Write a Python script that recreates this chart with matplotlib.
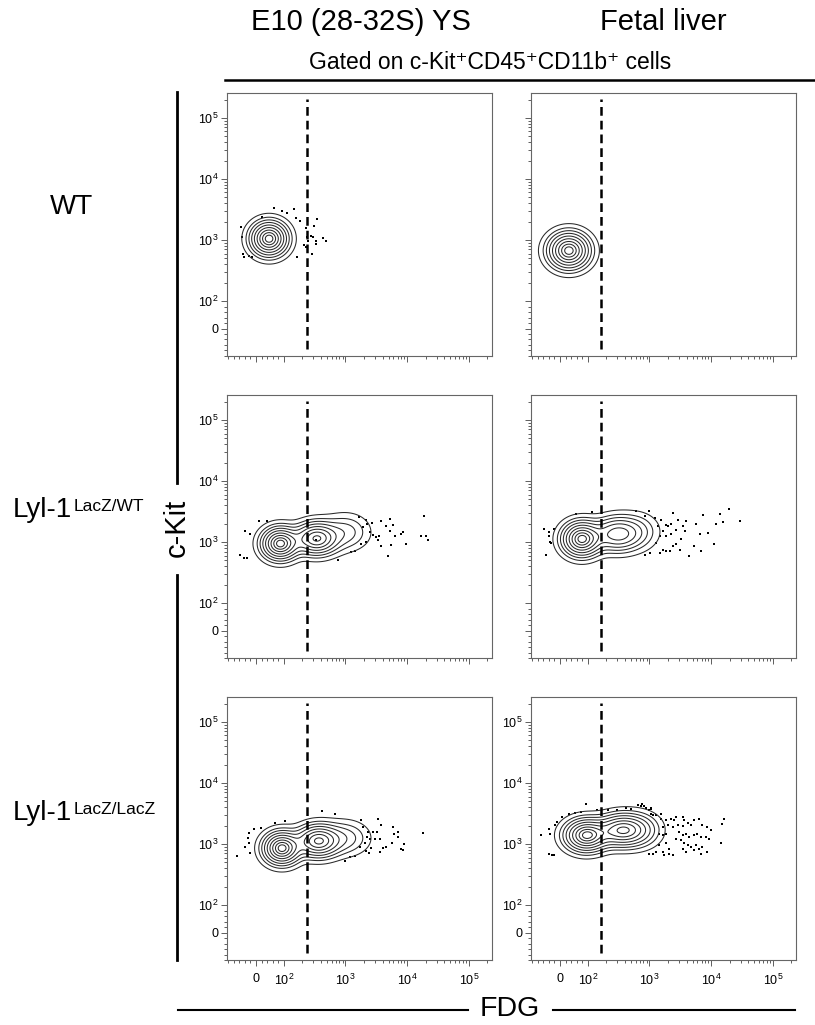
import numpy as np
import matplotlib
matplotlib.use('Agg')
import matplotlib.pyplot as plt
from matplotlib.lines import Line2D
from matplotlib.scale import SymmetricalLogTransform

plt.rcParams['font.family'] = ['Liberation Sans', 'DejaVu Sans']
plt.rcParams['mathtext.fontset'] = 'custom'
plt.rcParams['mathtext.rm'] = 'Liberation Sans'
plt.rcParams['mathtext.it'] = 'Liberation Sans:italic'

colTitles = ['E10 (28-32S) YS', 'Fetal liver']
rowNames = ['WT', 'Lyl-1', 'Lyl-1']
rowSups = ['', 'LacZ/WT', 'LacZ/LacZ']
gateTitle = 'Gated on c-Kit\u207aCD45\u207aCD11b\u207a cells'
xTitle = 'FDG'
yTitle = 'c-Kit'

tickVals = [0, 1e2, 1e3, 1e4, 1e5]
tickLabels = ['0', '$10^2$', '$10^3$', '$10^4$', '$10^5$']

# FDG value of the dashed gate, per column
fdgGate = [235, 166]

# density peaks of each population: FDG, c-Kit, spread FDG (decades), spread c-Kit, height
peaksYsWt = [(47, 1050, 0.17, 0.16, 1.0)]
peaksFlWt = [(32, 670, 0.19, 0.17, 1.0)]
peaksYsHet = [(87, 944, 0.17, 0.15, 1.0), (339, 1140, 0.20, 0.15, 0.85), (1000, 1450, 0.22, 0.17, 0.2)]
peaksFlHet = [(78, 1120, 0.18, 0.16, 1.0), (300, 1350, 0.22, 0.16, 0.6), (650, 1500, 0.20, 0.17, 0.15)]
peaksYsKo = [(93, 853, 0.17, 0.15, 1.0), (362, 1120, 0.20, 0.15, 0.85), (1000, 1250, 0.22, 0.16, 0.2)]
peaksFlKo = [(95, 1390, 0.20, 0.15, 1.0), (349, 1680, 0.22, 0.15, 0.8), (700, 1700, 0.20, 0.16, 0.25)]

# outlying events drawn as dots
dotsYsWtX = [-53, -49, -46, -42, -25, -14, 21, 63, 94, 113, 144, 159, 184, 163, 229, 234, 229, 246,
             272, 299, 310, 346, 338, 330, 285, 431, 488, 213]
dotsYsWtY = [1650, 1130, 588, 521, 547, 521, 2340, 3360, 2980, 2800, 3200, 2290, 2070, 535, 1590, 1110,
             769, 977, 1170, 1130, 1690, 2230, 977, 845, 588, 1080, 957, 824]

dotsFlWtX = []
dotsFlWtY = []

dotsYsHetX = [-57, -45, -33, -41, -21, 12, 39, 1660, 1920, 2180, 2270, 2460, 2720, 2780, 3080, 3350,
              3700, 3800, 3560, 4580, 5180, 5310, 5510, 5850, 6240, 4850, 8070, 8710, 9620, 17000,
              19000, 20200, 21500, 1250, 1410, 759, 1810, 2180, 331]
dotsYsHetY = [624, 548, 548, 1500, 1380, 2220, 2220, 2580, 1770, 2280, 2010, 1470, 2060, 1290, 1190, 1070,
              2220, 853, 1240, 1840, 2430, 1520, 887, 1880, 1240, 592, 1340, 1450, 944, 1240,
              2650, 1240, 1070, 689, 714, 503, 944, 1000, 1100]

dotsFlHetX = [-56, -50, -41, -38, -35, -32, -23, 57, 116, 600, 984, 839, 1250, 1560, 1370, 1660, 1830,
              1990, 2270, 2400, 2720, 2890, 3270, 3480, 3950, 3840, 4350, 5370, 5710, 6710, 6890, 7500,
              9030, 11000, 12200, 13700, 15300, 19700, 29600, 1290, 1460, 1660, 1880, 2120, 2400, 2650,
              3160, 1010, 839, 2270, 1460, 1880]
dotsFlHetY = [1660, 605, 1440, 1240, 1000, 966, 1640, 2890, 3110, 3180, 3270, 2710, 2480, 2270, 1860, 1500,
              1930, 1860, 2000, 3000, 1600, 2270, 1120, 1810, 2180, 1500, 583, 873, 2000, 1370, 705, 2810,
              1410, 931, 2000, 2920, 2140, 3490, 2240, 966, 662, 750, 705, 705, 851, 942,
              750, 662, 621, 1370, 1240, 1240]

dotsYsKoX = [-69, -38, -29, -27, -24, -23, -9, 19, 69, 103, 421, 673, 977, 1170, 1420, 1710, 1770, 2050,
             2230, 2320, 2380, 2530, 2620, 2980, 3200, 3360, 3580, 3800, 3580, 4050, 4580, 5710, 5870,
             6100, 7060, 7240, 7820, 8510, 9060, 17900, 2180, 2790, 1930]
dotsYsKoY = [638, 906, 1240, 1500, 1030, 706, 1750, 1820, 2240, 2420, 3490, 3080, 528, 608, 646, 906, 2480, 1050,
             1320, 1600, 722, 1200, 853, 1200, 1600, 2550, 1200, 2060, 750, 853, 906, 1030, 1930,
             1470, 1600, 1320, 822, 800, 993, 1540, 780, 1600, 1930]

dotsFlKoX = [760, 830, 1060, 998, 1130, 1540, 1540, 1850, 2230, 2530, 2690, 3440, 3660, 4150, 4700, 5310,
             6400, 7240, 8710, 9860, 16200, 15200, 14300, 1640, 1970, 2380, 2860, 3440, 3040, 3440, 3900,
             4420, 5310, 6010, 6810, 8200, 9270, 1450, 1640, 1850, 2690, 3240, 3660, 4150, 4700, 5650,
             6400, 7240, 8710, 3440, 3900, 5310, 6810, 1450, 1850, 2100, 1640, 1280, 1130, 998, 2100,
             2380, 1740,
             -70, -39, -36, -39, -30, -22, -18, -12, 6, 33, 53, 77, 95, 141, 212, 297, 420, 493, 647, 733,
             883, 1060, 1060, 1280]
dotsFlKoY = [4600, 4210, 3910, 3570, 2960, 3150, 2610, 2450, 2610, 2450, 2780, 2780, 2450, 2240, 2030, 2450,
             2610, 2030, 1900, 1680, 2610, 2160, 1020, 1900, 2030, 1900, 2030, 1980, 1580, 1390, 1480,
             1310, 1390, 1480, 1310, 1310, 1230, 1480, 1390, 1480, 1230, 1150, 1020, 955, 896, 955,
             841, 896, 741, 841, 741, 790, 697, 955, 1020, 841, 741, 741, 697, 697, 697,
             655, 655,
             1390, 1790, 1480, 697, 662, 670, 2030, 2300, 2780, 3150, 3240, 3360, 4490, 3660, 3570, 3660,
             3900, 3800, 4430, 4210, 3900, 3720, 3150, 2960]

panels = [
    [(peaksYsWt, dotsYsWtX, dotsYsWtY), (peaksFlWt, dotsFlWtX, dotsFlWtY)],
    [(peaksYsHet, dotsYsHetX, dotsYsHetY), (peaksFlHet, dotsFlHetX, dotsFlHetY)],
    [(peaksYsKo, dotsYsKoX, dotsYsKoY), (peaksFlKo, dotsFlKoX, dotsFlKoY)],
]

# contour levels as fractions of the peak density
levelFractions = [0.034, 0.089, 0.158, 0.252, 0.375, 0.522, 0.679, 0.825, 0.937]

LINTHRESH = 100
LINSCALE = 0.405
biex = SymmetricalLogTransform(10, LINTHRESH, LINSCALE)


def toDecades(v):
    return biex.transform_non_affine(np.asarray(v, dtype=float)) / LINTHRESH


def densityGrid(peaks):
    u = np.linspace(-0.6, 4.0, 420)
    gx, gy = np.meshgrid(u, u)
    z = np.zeros_like(gx)
    for fdg, kit, sx, sy, h in peaks:
        cx, cy = toDecades([fdg, kit])
        z += h * np.exp(-0.5 * ((gx - cx) / sx) ** 2 - 0.5 * ((gy - cy) / sy) ** 2)
    inv = biex.inverted()
    return inv.transform_non_affine(gx * LINTHRESH), inv.transform_non_affine(gy * LINTHRESH), z


def minorTicks():
    ticks = [-100, -80, -60, -40, -20, 20, 40, 60, 80]
    for k in range(2, 6):
        for m in range(2, 10):
            if m * 10 ** k < 2.4e5:
                ticks.append(m * 10 ** k)
    return ticks


def makePlot(plotFile):
    fig = plt.figure(figsize=(8.15, 10.25), dpi=100)
    lefts = [0.2785, 0.6515]
    bottoms = [0.6527, 0.358, 0.0634]
    w, h = 0.3255, 0.257

    for r in range(3):
        for c in range(2):
            peaks, dx, dy = panels[r][c]
            ax = fig.add_axes([lefts[c], bottoms[r], w, h])
            ax.set_xscale('symlog', base=10, linthresh=LINTHRESH, linscale=LINSCALE)
            ax.set_yscale('symlog', base=10, linthresh=LINTHRESH, linscale=LINSCALE)

            gx, gy, z = densityGrid(peaks)
            ax.contour(gx, gy, z, levels=[f * z.max() for f in levelFractions],
                       colors='#2a2a2a', linewidths=0.75)
            if dx:
                ax.scatter(dx, dy, s=3, marker='s', c='black', linewidths=0)
            ax.axvline(fdgGate[c], ymin=0.027, ymax=0.977, color='black', lw=1.8, dashes=(3.5, 2.0))

            ax.set_xlim(-105, 2.4e5)
            ax.set_ylim(-100, 2.6e5)
            ax.set_xticks(tickVals)
            ax.set_yticks(tickVals)
            ax.set_xticks(minorTicks(), minor=True)
            ax.set_yticks(minorTicks(), minor=True)
            ax.set_xticklabels(tickLabels if r == 2 else [])
            ax.set_yticklabels(tickLabels if (c == 0 or r == 2) else [])
            ax.tick_params(which='both', direction='out', top=False, right=False,
                           color='#444444', width=0.6, labelsize=9)
            ax.tick_params(which='major', length=4)
            ax.tick_params(which='minor', length=2)
            ax.tick_params(axis='y', pad=2)
            ax.tick_params(axis='x', pad=5)
            for s in ax.spines.values():
                s.set_color('#666666')
                s.set_linewidth(0.8)

            if c == 0:
                rowY = [0.7985, 0.502, 0.2065][r]
                rowX = [0.061, 0.016, 0.016][r]
                t = fig.text(rowX, rowY, rowNames[r], fontsize=20, va='center', ha='left')
                if rowSups[r]:
                    ax.annotate(rowSups[r], xy=(1, 1), xycoords=t, xytext=(1.0, -1.0),
                                textcoords='offset points', ha='left', va='top',
                                fontsize=12.5, annotation_clip=False)

    # column titles and gate line
    fig.text(0.443, 0.9785, colTitles[0], fontsize=21, ha='center', va='center')
    fig.text(0.8135, 0.9785, colTitles[1], fontsize=21, ha='center', va='center')
    fig.text(0.601, 0.9395, gateTitle, fontsize=16.5, ha='center', va='center')
    fig.add_artist(Line2D([0.276, 1.0], [0.922, 0.922], color='black', lw=1.8))

    # c-Kit axis title with broken vertical line
    fig.text(0.217, 0.485, yTitle, fontsize=21, rotation=90, ha='center', va='center')
    fig.add_artist(Line2D([0.217, 0.217], [0.910, 0.5288], color='black', lw=2.0))
    fig.add_artist(Line2D([0.217, 0.217], [0.439, 0.0634], color='black', lw=2.0))

    # FDG axis title with lines either side
    fig.text(0.626, 0.0155, xTitle, fontsize=20.5, ha='center', va='center')
    fig.add_artist(Line2D([0.218, 0.574], [0.0146, 0.0146], color='black', lw=1.5))
    fig.add_artist(Line2D([0.678, 0.975], [0.0146, 0.0146], color='black', lw=1.5))

    plt.savefig(plotFile, dpi=100)


def main():
    makePlot('out.png')


if __name__ == '__main__':
    main()
